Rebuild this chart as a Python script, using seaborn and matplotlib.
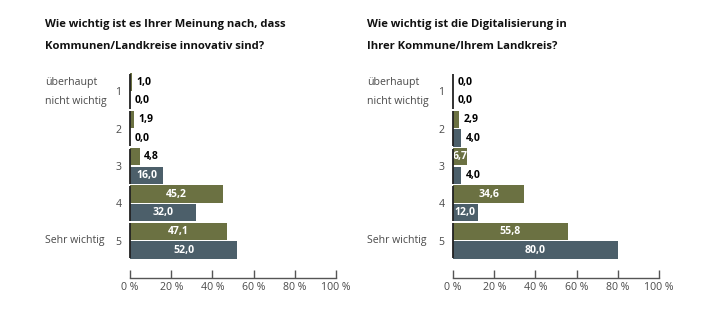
import matplotlib
matplotlib.use("Agg")
import matplotlib.pyplot as plt
import seaborn as sns
import pandas as pd

sns.set_theme(style="white")
plt.rcParams['font.family'] = ['Open Sans', 'DejaVu Sans']

categories = ["1", "2", "3", "4", "5"]
series_names = ["A", "B"]
left_green = [1.0, 1.9, 4.8, 45.2, 47.1]
left_slate = [0.0, 0.0, 16.0, 32.0, 52.0]
right_green = [0.0, 2.9, 6.7, 34.6, 55.8]
right_slate = [0.0, 4.0, 4.0, 12.0, 80.0]
titles = ["Wie wichtig ist es Ihrer Meinung nach, dass\nKommunen/Landkreise innovativ sind?",
          "Wie wichtig ist die Digitalisierung in\nIhrer Kommune/Ihrem Landkreis?"]
xticks = [0, 20, 40, 60, 80, 100]
xtick_labels = ["0 %", "20 %", "40 %", "60 %", "80 %", "100 %"]

GREEN = "#6b7142"
SLATE = "#4c5f6a"
GRAY = "#4a4a4a"
FS = 7.6

W, H = 703, 324
fig = plt.figure(figsize=(W / 100, H / 100), dpi=100)

def fx(px):
    return px / W

def fy(py):
    return 1 - py / H

panels = [
    (130, left_green, left_slate, titles[0], 45),
    (453, right_green, right_slate, titles[1], 45 + 322),
]

for x0, g, s, title, tx in panels:
    ax = fig.add_axes([fx(x0), fy(278), 206 / W, (278 - 72) / H])
    df = pd.DataFrame({
        "cat": categories * 2,
        "series": [series_names[0]] * 5 + [series_names[1]] * 5,
        "value": g + s,
    })
    sns.barplot(data=df, x="value", y="cat", hue="series", order=categories,
                hue_order=series_names, palette=[GREEN, SLATE], orient="h",
                width=1.0, gap=0.06, legend=False, ax=ax, saturation=1,
                linewidth=0)
    ax.set_xlim(0, 100)
    ax.set_ylim(5.0, -0.52)
    ax.set_xlabel("")
    ax.set_ylabel("")
    for side in ["top", "right", "left"]:
        ax.spines[side].set_visible(False)
    # segmented left axis line, one segment per category group
    for i in range(len(categories)):
        ax.vlines(0, i - 0.47, i + 0.47, color="#222222", linewidth=1.3,
                  clip_on=False, zorder=5)
    ax.spines["bottom"].set_color("#555555")
    ax.spines["bottom"].set_linewidth(1.0)
    ax.set_xticks(xticks)
    ax.set_xticklabels(xtick_labels)
    ax.tick_params(axis="x", direction="in", length=6, width=1.0, color="#555555",
                   labelsize=FS, labelcolor=GRAY, pad=3, bottom=True)
    ax.tick_params(axis="y", length=0, labelsize=FS, labelcolor=GRAY, pad=6)

    # value labels
    for i, (cg, cs) in enumerate(zip(g, s)):
        for v, off in ((cg, -0.25), (cs, 0.25)):
            lab = f"{v:.1f}".replace(".", ",")
            if v >= 6:
                ax.text(v / 2, i + off, lab, ha="center", va="center",
                        color="white", fontsize=FS, fontweight="bold")
            else:
                ax.annotate(lab, (v, i + off), xytext=(3.0, 0),
                            textcoords="offset points", ha="left", va="center",
                            color="black", fontsize=FS, fontweight="bold")

    fig.text(fx(tx), fy(27), title.split("\n")[0], ha="left", va="baseline",
             fontsize=8.1, fontweight="bold", color="#111111")
    fig.text(fx(tx), fy(49), title.split("\n")[1], ha="left", va="baseline",
             fontsize=8.1, fontweight="bold", color="#111111")
    fig.text(fx(tx), fy(83), "überhaupt", ha="left", va="center", fontsize=FS, color=GRAY)
    fig.text(fx(tx), fy(101), "nicht wichtig", ha="left", va="center", fontsize=FS, color=GRAY)
    fig.text(fx(tx), fy(241), "Sehr wichtig", ha="left", va="center", fontsize=FS, color=GRAY)

fig.savefig("out.png", dpi=100)
